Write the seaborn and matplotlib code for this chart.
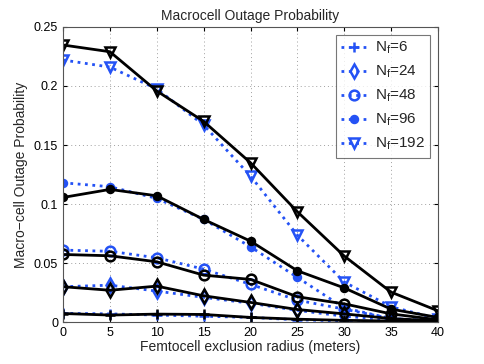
import numpy as np
import pandas as pd
import matplotlib
matplotlib.use("Agg")
import matplotlib.pyplot as plt
import seaborn as sns

# ==================================================
# DATA
# ==================================================

radius = [0, 5, 10, 15, 20, 25, 30, 35, 40]

# dotted blue curves (legend entries)
blue_nf6 = [0.0075, 0.0070, 0.0060, 0.0050, 0.0040, 0.0020, 0.0010, 0.0005, 0.0002]
blue_nf24 = [0.0300, 0.0313, 0.0263, 0.0210, 0.0160, 0.0100, 0.0050, 0.0020, 0.0008]
blue_nf48 = [0.0610, 0.0600, 0.0545, 0.0449, 0.0320, 0.0186, 0.0110, 0.0030, 0.0010]
blue_nf96 = [0.1180, 0.1147, 0.1048, 0.0870, 0.0638, 0.0379, 0.0120, 0.0030, 0.0010]
blue_nf192 = [0.2220, 0.2160, 0.1975, 0.1670, 0.1237, 0.0737, 0.0340, 0.0130, 0.0030]

# solid black curves
black_nf6 = [0.0073, 0.0060, 0.0068, 0.0065, 0.0040, 0.0025, 0.0015, 0.0010, 0.0005]
black_nf24 = [0.0300, 0.0270, 0.0305, 0.0223, 0.0167, 0.0107, 0.0070, 0.0030, 0.0010]
black_nf48 = [0.0573, 0.0562, 0.0511, 0.0398, 0.0362, 0.0215, 0.0155, 0.0070, 0.0020]
black_nf96 = [0.1056, 0.1124, 0.1070, 0.0870, 0.0686, 0.0435, 0.0290, 0.0110, 0.0040]
black_nf192 = [0.2347, 0.2290, 0.1958, 0.1700, 0.1350, 0.0935, 0.0560, 0.0254, 0.0096]

labels = ["6", "24", "48", "96", "192"]
markers = ["+", "d", "o", "o", "v"]
filled = [False, False, False, True, False]

blue_series = [blue_nf6, blue_nf24, blue_nf48, blue_nf96, blue_nf192]
black_series = [black_nf6, black_nf24, black_nf48, black_nf96, black_nf192]

# ==================================================
# STYLE
# ==================================================

sns.set_style("ticks")
plt.rcParams["font.family"] = ["Liberation Sans", "DejaVu Sans"]
plt.rcParams["mathtext.fontset"] = "custom"
plt.rcParams["mathtext.rm"] = "Liberation Sans"
plt.rcParams["mathtext.it"] = "Liberation Sans"

BLUE = "#2452f5"
MSIZE = {"+": 7, "d": 7.5, "v": 7.5}

fig = plt.figure(figsize=(4.85, 3.64), dpi=100)
ax = fig.add_axes([0.130, 0.115, 0.773, 0.811])


def marker_size(mk, fl):
    if mk == "o":
        return 5 if fl else 7
    return MSIZE[mk]


# ==================================================
# DRAW
# ==================================================

for vals, lab, mk, fl in zip(blue_series, labels, markers, filled):
    sns.lineplot(
        x=radius,
        y=vals,
        ax=ax,
        color=BLUE,
        linestyle=":",
        linewidth=2,
        marker=mk,
        markersize=marker_size(mk, fl),
        markerfacecolor=BLUE if fl else "none",
        markeredgecolor=BLUE,
        markeredgewidth=1.8,
        label=r"$\mathregular{N_f}$=" + lab,
    )

for vals, mk, fl in zip(black_series, markers, filled):
    sns.lineplot(
        x=radius,
        y=vals,
        ax=ax,
        color="black",
        linestyle="-",
        linewidth=2,
        marker=mk,
        markersize=marker_size(mk, fl),
        markerfacecolor="black" if fl else "none",
        markeredgecolor="black",
        markeredgewidth=1.8,
        legend=False,
    )

# ==================================================
# AXES
# ==================================================

ax.set_xlim(0, 40)
ax.set_ylim(0, 0.25)
ax.set_xticks(radius)
ax.set_yticks([0, 0.05, 0.1, 0.15, 0.2, 0.25])
ax.set_yticklabels(["0", "0.05", "0.1", "0.15", "0.2", "0.25"])

ax.grid(True, linestyle=(0, (1, 3)), color="#a0a0a0", linewidth=0.7)
ax.tick_params(direction="in", length=3, labelsize=9, top=True, right=True,
               colors="black")
for sp in ax.spines.values():
    sp.set_visible(True)
    sp.set_color("#555555")
    sp.set_linewidth(0.8)

ax.set_title("Macrocell Outage Probability", fontsize=10, pad=5)
ax.set_xlabel("Femtocell exclusion radius (meters)", fontsize=10, labelpad=1)
ax.set_ylabel("Macro\u2212cell Outage Probability", fontsize=10, labelpad=4)

leg = ax.legend(
    loc="upper right",
    fontsize=11,
    frameon=True,
    fancybox=False,
    edgecolor="#555555",
    handlelength=1.7,
    borderpad=0.35,
    labelspacing=0.5,
    borderaxespad=0.5,
    handletextpad=0.5,
)
leg.get_frame().set_linewidth(0.8)

fig.savefig("out.png", dpi=100)
